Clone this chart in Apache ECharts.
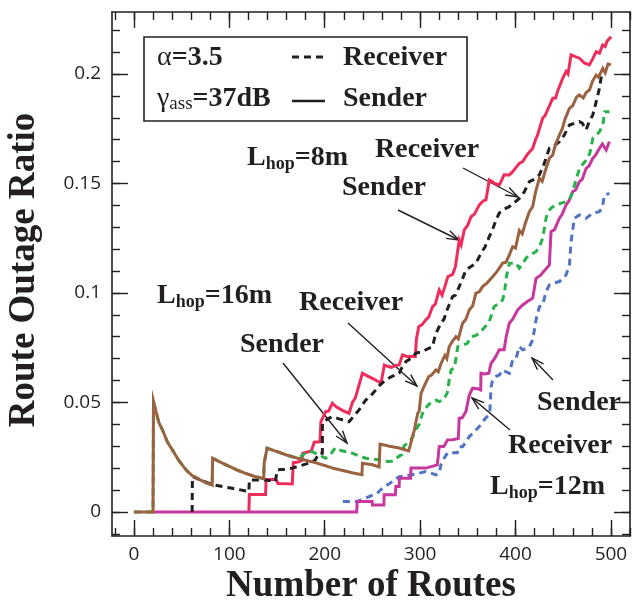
<!DOCTYPE html>
<html><head><meta charset="utf-8">
<script src="https://cdn.jsdelivr.net/npm/echarts@6/dist/echarts.min.js"></script>
<style>html,body{margin:0;padding:0;background:#fff}#c{width:633px;height:609px}</style>
</head><body><div id="c"></div><script>
// ---------- tick labels ----------
const xTicks = [0, 100, 200, 300, 400, 500];
const xMinorTicks = [-20,0,20,40,60,80,100,120,140,160,180,200,220,240,260,280,300,320,340,360,380,400,420,440,460,480,500,520];
const yTicks = [0, 0.05, 0.1, 0.15, 0.2];
const yMinorTicks = [-0.01,0,0.01,0.02,0.03,0.04,0.05,0.06,0.07,0.08,0.09,0.1,0.11,0.12,0.13,0.14,0.15,0.16,0.17,0.18,0.19,0.2,0.21,0.22];

// ---------- series values [routes, outage ratio] ----------
const sender16 = [[0,0],[20,0],[20.5,0.0505],[23,0.046],[26,0.041],[30,0.0374],[35,0.032],[40,0.0285],[47,0.0235],[55,0.019],[61,0.0166],[70,0.0145],[76,0.0133],[82,0.0123],
[82.5,0.0245],[90,0.0228],[100,0.0208],[110,0.0188],[117,0.0176],[126,0.0163],[136,0.0152],
[136.5,0.0222],[138.5,0.0222],[139.5,0.0291],[150,0.0275],[160,0.026],[170,0.0247],[180,0.0236],[190,0.0225],[200,0.0212],[210,0.0198],[220,0.0188],[230,0.0178],[239,0.017],
[239.5,0.0222],[250,0.0215],[257,0.0205],[258,0.031],[268,0.03],[278,0.0292],[288,0.0279],
[290,0.031],[292,0.0345],[294,0.0374],[296,0.042],[297.5,0.045],[299,0.046],[301,0.0542],[304,0.0572],[306,0.0568],[309,0.0618],[312,0.0625],[316.5,0.0648],[319,0.064],[322,0.0679],[326,0.0715],[328,0.07],[330.5,0.0755],[334,0.078],[337.5,0.08],[340,0.079],[344.5,0.0862],[348,0.088],[351.5,0.0922],[355,0.094],[358.5,0.0999],[362,0.1005],[365.5,0.1029],[370,0.1045],[376,0.1074],[380,0.1095],[383,0.1113],[386.5,0.1136],[390,0.114],[393.5,0.1174],[397,0.1211],[400,0.1205],[404,0.1285],[407,0.127],[410,0.1315],[414.5,0.1371],[418,0.1395],[421,0.146],[425,0.1524],[428,0.151],[431,0.1555],[435.5,0.1615],[439,0.163],[442,0.168],[446,0.1721],[449,0.175],[452,0.1795],[456.5,0.1843],[460,0.1855],[464,0.1895],[467,0.1904],[471,0.189],[474,0.1915],[477.5,0.1927],[481,0.197],[484.5,0.1995],[487,0.1985],[491.5,0.2026],[494,0.2005],[497,0.2045],[500,0.2042]];

const receiver16 = [[0,0],[20,0],[20.5,0.0505],[23,0.046],[26,0.041],[30,0.0374],[35,0.032],[40,0.0285],[47,0.0235],[55,0.019],[61,0.0166],[70,0.0145],[76,0.0133],[82,0.0123],
[82.5,0.0245],[90,0.0228],[100,0.0208],[110,0.0188],[117,0.0176],[126,0.0163],[136,0.0152],
[136.5,0.0222],[138.5,0.0222],[139.5,0.0291],[150,0.0275],[160,0.026],[170,0.0247],[176,0.0255],[181,0.0275],[187,0.0275],[193,0.0262],[201,0.0245],[206,0.0262],[211,0.0292],[215,0.0283],[222,0.0275],[229,0.0268],[236,0.0256],[243,0.0245],[252,0.024],[260,0.0237],[266,0.023],[272,0.0232],[278,0.0255],[281,0.0262],[283,0.03],[288.5,0.0321],[292,0.034],[295.5,0.0374],[299,0.04],[302.5,0.045],[306,0.0475],[309.5,0.0492],[313,0.0505],[316.5,0.0511],[320,0.0504],[325,0.0515],[328.5,0.0545],[330.5,0.0603],[332.5,0.0648],[336,0.066],[339.5,0.0755],[344,0.076],[349.5,0.077],[353.5,0.08],[358,0.0805],[362,0.0816],[367,0.084],[372.5,0.0869],[377.5,0.0937],[382,0.095],[386.5,0.0968],[388.5,0.1005],[390.5,0.1075],[393.5,0.1136],[397,0.1136],[400.5,0.1136],[404,0.1113],[407,0.113],[411,0.1159],[416,0.1175],[421.5,0.1189],[425,0.121],[428.5,0.125],[432,0.1341],[434,0.1371],[438,0.139],[442.5,0.1402],[448,0.141],[453,0.1417],[457,0.143],[460,0.1463],[463,0.151],[467,0.1569],[471,0.159],[475.5,0.1615],[478,0.164],[481,0.1706],[485,0.172],[488,0.1737],[491.5,0.1767],[493.5,0.1828],[498.5,0.1828]];

const receiver8 = [[61,0],[61.3,0.0161],[66,0.0153],[72,0.0142],[82,0.0125],[90,0.0118],[100,0.011],[110,0.0102],[120.5,0.0093],[121,0.0146],[130,0.0146],[138,0.0146],[148,0.0138],[150.5,0.0192],[158,0.0195],[166,0.02],[175,0.0212],[183,0.0222],[190,0.0237],[194,0.0268],[197.5,0.0268],[197.6,0.0405],[203,0.0425],[208,0.0435],[215,0.0425],[225.5,0.0412],[231,0.044],[236,0.0466],[243,0.0511],[248,0.053],[253.5,0.0557],[258,0.058],[264,0.0603],[270,0.0618],[278,0.0633],[281,0.066],[285,0.0686],[290,0.07],[295.5,0.0725],[302.5,0.0732],[308,0.0745],[313,0.0755],[316,0.081],[321.8,0.0862],[325,0.088],[328,0.092],[334,0.0983],[337,0.099],[341,0.1029],[344,0.106],[348,0.1105],[353,0.112],[358.5,0.1136],[363.8,0.1181],[368,0.121],[372.5,0.1257],[376,0.129],[379.5,0.1333],[383,0.1365],[386.5,0.1379],[393.5,0.1394],[398,0.141],[404,0.1432],[409,0.146],[414.5,0.1508],[420,0.152],[425,0.1539],[430,0.159],[435.5,0.1661],[440,0.167],[446,0.1691],[451,0.172],[456.5,0.1767],[462,0.1775],[467,0.1782],[470,0.1775],[474,0.1745],[477,0.178],[481,0.1813],[484.5,0.1873],[488,0.1935],[490,0.199]];

const sender8 = [[120.5,0],[121,0.008],[138,0.008],[138.5,0.0148],[149,0.0148],[151,0.013],[166,0.0128],[167,0.0225],[172,0.0228],[176,0.0235],[177,0.0268],[186,0.0278],[189,0.0318],[195,0.032],[196,0.0412],[198,0.0405],[201,0.0458],[204,0.046],[208,0.0496],[212,0.048],[218,0.0465],[225.5,0.045],[229,0.05],[232,0.052],[234.5,0.0557],[236,0.0555],[239.5,0.0633],[245,0.062],[250,0.061],[255,0.0598],[259,0.0588],[262.5,0.0671],[266,0.0665],[270,0.066],[274,0.0668],[278,0.0671],[281.5,0.0717],[286,0.071],[295,0.071],[296,0.0785],[298.5,0.0846],[302,0.0855],[306,0.0877],[309,0.089],[313,0.0937],[316,0.095],[320,0.1014],[323,0.099],[326,0.103],[329,0.1074],[334,0.1085],[337,0.112],[341,0.1242],[343,0.122],[346.3,0.1288],[350,0.131],[353.3,0.1348],[357,0.136],[362,0.1402],[366,0.142],[369,0.1425],[372.5,0.1516],[375,0.151],[378,0.15],[383,0.1493],[386,0.152],[388,0.154],[393.5,0.1539],[397,0.1554],[400,0.157],[404,0.1592],[407.5,0.16],[412,0.163],[418,0.1661],[421,0.17],[423,0.172],[428.4,0.1798],[431,0.181],[434,0.184],[439,0.1889],[442,0.189],[444,0.192],[449.4,0.198],[453,0.2011],[455,0.2],[458.2,0.2087],[462,0.208],[467,0.2072],[472,0.205],[477.4,0.2041],[481,0.207],[484.5,0.2102],[488,0.2095],[491.4,0.2132],[494,0.2125],[496,0.215],[500.2,0.217]];

const receiver12 = [[20,0],[233.5,0],[234,0.0047],[249.7,0.0047],[250,0.0032],[262,0.0032],[262.3,0.0078],[274,0.0078],[274.6,0.0116],[278,0.0116],[278.3,0.0154],[290,0.0154],[290.4,0.02],[306,0.02],[318,0.0215],[319,0.0255],[320,0.0298],[325,0.03],[328.8,0.0329],[334,0.033],[340,0.0335],[341,0.0428],[344,0.043],[348,0.0458],[351.5,0.0534],[355,0.0565],[360,0.0563],[363.5,0.0557],[363.8,0.0633],[368,0.063],[372,0.0633],[374.4,0.0679],[378,0.07],[383,0.074],[388,0.074],[390.2,0.08],[393.5,0.0862],[397,0.088],[402.2,0.0922],[407.5,0.0945],[412,0.096],[418,0.0976],[421.5,0.1067],[426,0.108],[430,0.11],[435.5,0.1128],[437.2,0.128],[441,0.129],[446,0.1341],[449,0.136],[453,0.1402],[456,0.142],[460,0.1463],[463,0.147],[467,0.1508],[470,0.152],[474,0.1569],[477,0.158],[481,0.1615],[484,0.163],[488,0.1661],[491,0.168],[495,0.1653],[498.4,0.1691]];

const sender12 = [[219,0.0047],[233.5,0.0047],[240,0.0058],[246.5,0.007],[255,0.0085],[260.5,0.0108],[268,0.013],[278,0.0161],[284,0.0165],[290.4,0.0169],[298,0.0176],[306,0.0184],[311,0.0178],[316.6,0.0169],[320,0.0177],[321.8,0.0215],[324,0.0237],[328.8,0.027],[339,0.027],[341,0.0298],[344.5,0.0298],[348,0.032],[351.5,0.0344],[355,0.0358],[358.5,0.0374],[362,0.039],[365.5,0.0412],[369,0.043],[373,0.045],[374.4,0.0572],[376,0.0603],[380,0.062],[383,0.0625],[386.5,0.0648],[390,0.064],[393.5,0.0633],[397,0.0694],[400.5,0.07],[404,0.0755],[407.5,0.074],[411,0.0745],[414.5,0.0755],[418,0.0785],[421.5,0.0877],[425,0.0937],[428.4,0.0945],[432,0.1006],[435.5,0.1037],[439,0.1044],[446,0.1052],[453,0.1082],[456.5,0.1128],[458.2,0.1234],[461.7,0.1341],[467,0.1356],[470,0.135],[474,0.1341],[481,0.1364],[488,0.1371],[491,0.139],[493.2,0.1447],[498.4,0.1455]];

// ---------- styling ----------
const INK = '#231f20';
const C = {red:'#ee2d5b', black:'#231f20', brown:'#9a6241', green:'#27b24a', magenta:'#c8379e', blue:'#5073c4'};
const X_MIN = -23, X_MAX = 520, Y_MIN = -0.011, Y_MAX = 0.2283;
const SERIF = '"Liberation Serif","Times New Roman",serif';

const chart = echarts.init(document.getElementById('c'), null, {renderer:'canvas'});

function xAx(pos, vals, len, labels, line) {
  return {type:'value', position:pos, min:X_MIN, max:X_MAX,
    axisLine:{show:line, onZero:false, lineStyle:{color:INK, width:1.6}},
    axisTick:{show:true, inside:true, length:len, customValues:vals, lineStyle:{color:INK, width:1.4}},
    axisLabel:{show:labels, customValues:vals, color:INK, fontSize:19, fontFamily:'"Open Sans",sans-serif', margin:9},
    splitLine:{show:false}};
}
function yAx(pos, vals, len, labels, line) {
  return {type:'value', position:pos, min:Y_MIN, max:Y_MAX,
    axisLine:{show:line, onZero:false, lineStyle:{color:INK, width:1.6}},
    axisTick:{show:true, inside:true, length:len, customValues:vals, lineStyle:{color:INK, width:1.4}},
    axisLabel:{show:labels, customValues:vals, color:INK, fontSize:19, fontFamily:'"Open Sans",sans-serif', margin:11,
      formatter: v => String(+v.toFixed(2))},
    splitLine:{show:false}};
}
function line(data, color, dashed, z) {
  return {type:'line', data:data, xAxisIndex:0, yAxisIndex:0, symbol:'none', z:z, animation:false,
    lineStyle:{color:color, width:3, type: dashed ? [7,5] : 'solid', cap:'butt', join:'miter'}};
}
function arrow(x1,y1,x2,y2) {
  const a = Math.atan2(y2-y1, x2-x1), L = 13, s = 0.33;
  return {type:'group', children:[
    {type:'line', shape:{x1:x1,y1:y1,x2:x2,y2:y2}, style:{stroke:INK, lineWidth:1.4}},
    {type:'polyline', shape:{points:[[x2-L*Math.cos(a-s), y2-L*Math.sin(a-s)],[x2,y2],[x2-L*Math.cos(a+s), y2-L*Math.sin(a+s)]]}, style:{stroke:INK, lineWidth:1.4, fill:null}}
  ]};
}
function txt(x, y, s, size, align) {
  return {type:'text', x:x, y:y, style:{text:s, font:'bold '+size+'px '+SERIF, fill:INK, textAlign:align||'left', textVerticalAlign:'middle'}};
}
function lhop(x, y, val) {
  return {type:'text', x:x, y:y, style:{text:'{b|L}{s|hop}{b|='+val+'}', fill:INK, textAlign:'left', textVerticalAlign:'middle',
    rich:{b:{font:'bold 28px '+SERIF, fill:INK, lineHeight:30, verticalAlign:'middle'},
          s:{font:'bold 18px '+SERIF, fill:INK, lineHeight:18, verticalAlign:'bottom', padding:[8,0,0,0]}}}};
}

const option = {
  animation:false,
  backgroundColor:'#fff',
  grid:{left:112, top:12, width:518, height:524, containLabel:false},
  xAxis:[xAx('bottom', xTicks, 16, true, true), xAx('bottom', xMinorTicks, 8, false, false),
         xAx('top', xTicks, 16, false, true), xAx('top', xMinorTicks, 8, false, false)],
  yAxis:[yAx('left', yTicks, 16, true, true), yAx('left', yMinorTicks, 8, false, false),
         yAx('right', yTicks, 16, false, true), yAx('right', yMinorTicks, 8, false, false)],
  series:[
    line(sender12, C.blue, true, 2),
    line(sender8, C.red, false, 3),
    line(receiver12, C.magenta, false, 4),
    line(receiver16, C.green, true, 5),
    line(receiver8, C.black, true, 6),
    line(sender16, C.brown, false, 7)
  ],
  graphic:[
    {type:'text', x:24, y:270, rotation:Math.PI/2, style:{text:'Route Outage Ratio', font:'bold 37px '+SERIF, fill:INK, textAlign:'center', textVerticalAlign:'middle'}},
    {type:'text', x:371, y:586, style:{text:'Number of Routes', font:'bold 37px '+SERIF, fill:INK, textAlign:'center', textVerticalAlign:'middle'}},
    // legend box
    {type:'rect', shape:{x:144, y:37, width:323, height:84}, style:{stroke:INK, lineWidth:1.6, fill:'#fff'}, z:10},
    {type:'text', x:157, y:58, z:11, style:{text:'{g|α}{b|=3.5}', fill:INK, textVerticalAlign:'middle',
      rich:{g:{font:'28px '+SERIF, fill:INK}, b:{font:'bold 28px '+SERIF, fill:INK}}}},
    {type:'text', x:157, y:99, z:11, style:{text:'{g|γ}{s|ass}{b|=37dB}', fill:INK, textVerticalAlign:'middle',
      rich:{g:{font:'28px '+SERIF, fill:INK, lineHeight:30}, s:{font:'19px '+SERIF, fill:INK, lineHeight:18, verticalAlign:'bottom', padding:[8,0,0,0]}, b:{font:'bold 28px '+SERIF, fill:INK, lineHeight:30}}}},
    {type:'line', z:11, shape:{x1:292, y1:57, x2:324, y2:57}, style:{stroke:INK, lineWidth:3, lineDash:[7,5]}},
    {type:'line', z:11, shape:{x1:292, y1:101, x2:325, y2:101}, style:{stroke:INK, lineWidth:2.4}},
    Object.assign(txt(343, 58, 'Receiver', 28), {z:11}),
    Object.assign(txt(343, 99, 'Sender', 28), {z:11}),
    // annotations
    lhop(247, 158, '8m'),
    txt(375, 150, 'Receiver', 28),
    txt(342, 188, 'Sender', 28),
    lhop(157, 296, '16m'),
    txt(299, 303, 'Receiver', 28),
    txt(240, 345, 'Sender', 28),
    txt(537, 403, 'Sender', 28),
    txt(508, 446, 'Receiver', 28),
    lhop(490, 487, '12m'),
    arrow(463,168,518,197),
    arrow(398,210,459,240),
    arrow(348,323,417,386),
    arrow(283,363,347,443),
    arrow(553,380,532,358),
    arrow(510,430,472,398)
  ]
};
chart.setOption(option);
</script></body></html>
